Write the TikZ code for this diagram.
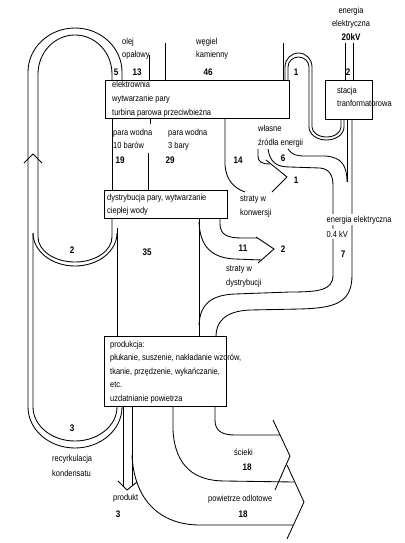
\documentclass[tikz,border=0pt]{standalone}
\usepackage{fontspec}
\setmainfont{Liberation Sans}[FakeStretch=0.85]
\newcommand\txtf{\fontsize{8.8}{13.5}\selectfont}
\newcommand\numf{\fontsize{9.5}{10}\selectfont\bfseries}
\begin{document}
\begin{tikzpicture}[x=1pt,y=-1pt,
  fl/.style={line width=0.85pt},
  box/.style={draw, line width=1pt, inner sep=0pt, fill=white},
  lb/.style={font=\txtf, inner sep=0pt, anchor=base west},
  lbc/.style={font=\txtf, inner sep=0pt, anchor=base},
  nb/.style={font=\numf, inner sep=0pt}]
\useasboundingbox (0,0) rectangle (404,543);

% ---- left big loop (5 = 2 + 3)
\draw[fl] (122,80) -- (122,72) arc[start angle=0, end angle=-180, x radius=47, y radius=44]
  -- (28,407) arc[start angle=180, end angle=0, x radius=47, y radius=41];
\draw[fl] (112,80) -- (112,74) arc[start angle=0, end angle=-180, x radius=37, y radius=39]
  -- (38,237) arc[start angle=180, end angle=0, x radius=37, y radius=25] -- (112,218);
\draw[fl] (33,233) -- (33,407) arc[start angle=180, end angle=0, x radius=42, y radius=34];
\draw[fl] (33,233) arc[start angle=180, end angle=0, x radius=42, y radius=33];
\draw[fl] (24,163) -- (33,154) -- (42,163);

% ---- 35 band
\draw[fl] (117,228) -- (117,336);
\draw[fl] (199,218) -- (199,336);

% ---- inputs to power plant
\draw[fl] (149,55) -- (149,80);
\draw[fl] (165,43) -- (165,80);
\draw[fl] (283,43) -- (283,80);
\draw[fl] (345,43) -- (345,80);
\draw[fl] (353,43) -- (353,80);

% ---- loop 1 to transformer
\draw[fl] (285,80) -- (285,67) arc[start angle=180, end angle=360, x radius=13.5, y radius=14]
  -- (312,127) arc[start angle=180, end angle=0, x radius=14.5, y radius=10] -- (341,119);
\draw[fl] (288,80) -- (288,67) arc[start angle=180, end angle=360, x radius=10.5, y radius=10]
  -- (309,127) arc[start angle=180, end angle=0, x radius=17.5, y radius=13] -- (344,119);

% ---- electricity 0.4 kV (7)
\draw[fl] (347,119) -- (347,182);
\draw[fl] (352,119) -- (352,275) .. controls (352,303) and (335,308) .. (300,309)
  -- (250,310) .. controls (225,311) and (216,322) .. (216,336);
\draw[fl] (288,149) .. controls (292,155) and (297,156) .. (305,156) -- (325,156)
  .. controls (342,157) and (347,166) .. (347,182);
\draw[fl] (268,149) .. controls (270,162) and (276,167) .. (290,167) -- (320,168)
  .. controls (330,169) and (333,176) .. (333,186) -- (333,275)
  .. controls (333,290) and (320,292) .. (290,292) -- (235,294)
  .. controls (210,295) and (200,305) .. (199,325);

% ---- losses from own sources / conversion
\draw[fl] (258,149) -- (258,156) .. controls (258,162) and (262,164) .. (270,164);
\draw[fl] (266,160) -- (287,177) -- (272,192);
\draw[fl] (225,118) -- (225,165) .. controls (226,180) and (234,188) .. (245,192);

% ---- steam
\draw[fl] (112,118) -- (112,190);
\draw[fl] (150,118) -- (150,124);
\draw[fl] (148,153) -- (148,190);

% ---- distribution losses 11
\draw[fl] (220,218) -- (220,224) .. controls (220,235) and (228,238) .. (242,238) -- (257,238);
\draw[fl] (199,222) .. controls (200,247) and (212,258) .. (235,259) -- (262,260);
\draw[fl] (256,237) -- (274,249) -- (258,263);

% ---- product
\draw[fl] (123,406) -- (123,486);
\draw[fl] (132,406) -- (132,485);
\draw[fl] (118,481) -- (127,490) -- (137,482);

% ---- exhaust air and waste water
\draw[fl] (132,455) .. controls (134,500) and (160,525) .. (200,525) -- (293,525);
\draw[fl] (173,406) -- (173,430) .. controls (175,467) and (195,481) .. (225,481) -- (294,482);
\draw[fl] (287,465) -- (304,502) -- (287,539);
\draw[fl] (215,406) -- (215,420) .. controls (215,431) and (222,435) .. (235,435) -- (280,435);
\draw[fl] (273,420) -- (290,456) -- (275,490);

% ---- boxes
\node[box, anchor=north west, minimum width=184pt, minimum height=38pt] (elek) at (105,80) {};
\node[box, anchor=north west, minimum width=47pt, minimum height=39pt] (stacja) at (325,80) {};
\node[box, anchor=north west, minimum width=123pt, minimum height=28pt] (dyst) at (104,190) {};
\node[box, anchor=north west, minimum width=122pt, minimum height=70pt] (prod) at (104,336) {};

% ---- box texts
\node[lb] (e1) at (112,88) {elektrownia};
\node[lb] (e2) at (112,101.5) {wytwarzanie pary};
\node[lb] (e3) at (112,115) {turbina parowa przeciwbieżna};
\node[lb] (s1) at (337,93) {stacja};
\node[lb] (s2) at (337,106) {tranformatorowa};
\node[lb] (d1) at (107,200) {dystrybucja pary, wytwarzanie};
\node[lb] (d2) at (107,213) {ciepłej wody};
\node[lb] (p1) at (110,347) {produkcja:};
\node[lb] (p2) at (110,360) {płukanie, suszenie, nakładanie wzorów,};
\node[lb] (p3) at (110,374) {tkanie, przędzenie, wykańczanie,};
\node[lb] (p4) at (110,387) {etc.};
\node[lb] (p5) at (110,401) {uzdatnianie powietrza};

% ---- labels
\node[lbc] (en1) at (351,14) {energia};
\node[lbc] (en2) at (351,27) {elektryczna};
\node[nb, anchor=base] (en3) at (351,41) {20kV};
\node[lb] (ol1) at (122,45) {olej};
\node[lb] (ol2) at (122,58) {opałowy};
\node[lb] (wg1) at (196,45) {węgiel};
\node[lb] (wg2) at (196,58) {kamienny};
\node[lb] (pw1) at (113,135) {para wodna};
\node[lb] (pw2) at (113,148) {10 barów};
\node[lb] (pw3) at (168,135) {para wodna};
\node[lb] (pw4) at (168,148) {3 bary};
\node[lb] (wl1) at (258,131) {własne};
\node[lb] (wl2) at (258,145) {źródła energii};
\node[lb] (sk1) at (240,201) {straty w};
\node[lb] (sk2) at (240,215) {konwersji};
\node[lb] (sd1) at (226,271) {straty w};
\node[lb] (sd2) at (226,285) {dystrybucji};
\node[lb, fill=white, inner sep=1.5pt] (ee1) at (325,222) {energia elektryczna};
\node[lb, fill=white, inner sep=1.5pt] (ee2) at (325,237) {0.4 kV};
\node[lb] (rk1) at (52,461) {recyrkulacja};
\node[lb] (rk2) at (52,476) {kondensatu};
\node[lb] (pr) at (113,500) {produkt};
\node[lb] (sc) at (234,455) {ścieki};
\node[lb] (po) at (208,501) {powietrze odlotowe};

% ---- numbers
\node[nb] (n5) at (116,72) {5};
\node[nb] (n13) at (137,72) {13};
\node[nb] (n46) at (208,72) {46};
\node[nb] (n1a) at (296,72) {1};
\node[nb] (n2a) at (348,72) {2};
\node[nb] (n19) at (120,160) {19};
\node[nb] (n29) at (170,160) {29};
\node[nb] (n14) at (238,160) {14};
\node[nb] (n6) at (283,158) {6};
\node[nb] (n1b) at (296,180) {1};
\node[nb] (n2b) at (72,250) {2};
\node[nb] (n35) at (147,252) {35};
\node[nb] (n11) at (243,248) {11};
\node[nb] (n2c) at (283,249) {2};
\node[nb] (n7) at (343,254) {7};
\node[nb] (n3a) at (72,428) {3};
\node[nb] (n3b) at (118,514) {3};
\node[nb] (n18a) at (247,467) {18};
\node[nb] (n18b) at (243,514) {18};
\end{tikzpicture}
\end{document}
